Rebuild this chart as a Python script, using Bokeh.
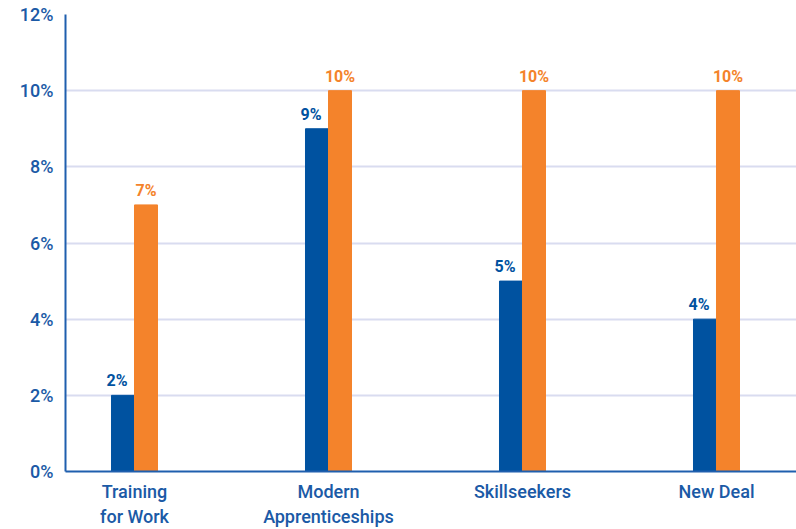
from bokeh.plotting import figure
from bokeh.models import ColumnDataSource, FixedTicker, Range1d, LabelSet
from bokeh.core.properties import value
from bokeh.embed import file_html
from bokeh.resources import INLINE

categories = ["Training\nfor Work", "Modern\nApprenticeships", "Skillseekers", "New Deal"]
blue_vals = [2, 9, 5, 4]
orange_vals = [7, 10, 10, 10]
y_ticks = [0, 2, 4, 6, 8, 10, 12]

BLUE = "#0052a0"
ORANGE = "#f4832b"
TEXT = "#1b5aa6"
FONT = "Roboto Medium, Roboto"
bw = 0.1186

idx = list(range(len(categories)))
src_b = ColumnDataSource(dict(x=[i - bw / 2 for i in idx], top=blue_vals,
                              lab=[f"{v}%" for v in blue_vals]))
src_o = ColumnDataSource(dict(x=[i + bw / 2 for i in idx], top=orange_vals,
                              lab=[f"{v}%" for v in orange_vals]))

p = figure(width=796, height=529, output_backend="svg", toolbar_location=None,
           x_range=Range1d(-0.3557, 3.4124), y_range=Range1d(0, 12),
           min_border_left=65, min_border_right=0, min_border_top=14, min_border_bottom=58)
p.outline_line_color = None
p.background_fill_color = "white"

p.vbar(x="x", top="top", width=bw, source=src_b, color=BLUE)
p.vbar(x="x", top="top", width=bw, source=src_o, color=ORANGE)

p.add_layout(LabelSet(x="x", y="top", text="lab", source=src_b, text_align="center",
                      text_baseline="bottom", y_offset=5, x_offset=-6,
                      text_color=BLUE, text_font=value("Roboto"), text_font_style="bold",
                      text_font_size="16px"))
p.add_layout(LabelSet(x="x", y="top", text="lab", source=src_o, text_align="center",
                      text_baseline="bottom", y_offset=5,
                      text_color=ORANGE, text_font=value("Roboto"), text_font_style="bold",
                      text_font_size="16px"))

p.yaxis.ticker = FixedTicker(ticks=y_ticks)
p.yaxis.major_label_overrides = {t: f"{t}%" for t in y_ticks}
p.xaxis.ticker = FixedTicker(ticks=idx)
p.xaxis.major_label_overrides = {i: c for i, c in zip(idx, categories)}

for ax in (p.xaxis, p.yaxis):
    ax.major_tick_line_color = None
    ax.minor_tick_line_color = None
    ax.axis_line_color = "#1f5fae"
    ax.axis_line_width = 2
    ax.major_label_text_color = TEXT
    ax.major_label_text_font = FONT
p.yaxis.major_label_text_font_size = "18px"
p.xaxis.major_label_text_font_size = "18px"
p.yaxis.major_label_standoff = 6
p.xaxis.major_label_standoff = 3

p.xgrid.grid_line_color = None
p.ygrid.ticker = FixedTicker(ticks=y_ticks)
p.ygrid.grid_line_color = "#d9dcf0"
p.ygrid.grid_line_width = 2

open("out.html", "w").write(file_html(p, INLINE))
